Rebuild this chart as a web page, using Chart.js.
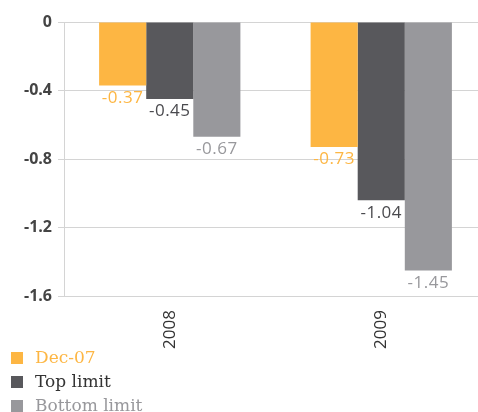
<!DOCTYPE html>
<html>
<head>
<meta charset="utf-8">
<script src="https://cdn.jsdelivr.net/npm/chart.js@4/dist/chart.umd.min.js"></script>
<style>
  html, body { margin: 0; padding: 0; background: #fff; overflow: hidden; }
  #wrap { position: relative; width: 478px; height: 412px; overflow: hidden; }
  #box { position: absolute; left: 0; top: 0; width: 487px; height: 355px; }
  #legend { position: absolute; left: 11px; top: 346px; font-family: "DejaVu Serif", serif; font-size: 17px; }
  .item { height: 24px; line-height: 22px; white-space: nowrap; }
  .sw { display: inline-block; width: 12px; height: 12px; margin-right: 12px; vertical-align: -1px; }
</style>
</head>
<body>
<div id="wrap">
  <div id="box"><canvas id="chart"></canvas></div>
  <div id="legend"></div>
</div>
<script>
const categories = ['2008', '2009'];
const seriesNames = ['Dec-07', 'Top limit', 'Bottom limit'];
const dec07 = [-0.37, -0.73];
const topLimit = [-0.45, -1.04];
const bottomLimit = [-0.67, -1.45];
const colors = ['#fdb643', '#58585c', '#98989c'];
const labelColors = ['#fdb643', '#4a4a4e', '#98989c'];

// value labels under each bar end
const barLabels = {
  id: 'barLabels',
  afterDatasetsDraw(chart) {
    const ctx = chart.ctx;
    ctx.save();
    ctx.font = '17px "Open Sans", sans-serif';
    ctx.letterSpacing = '0.5px';
    ctx.textAlign = 'center';
    ctx.textBaseline = 'top';
    chart.data.datasets.forEach((ds, i) => {
      chart.getDatasetMeta(i).data.forEach((bar, j) => {
        ctx.fillStyle = labelColors[i];
        ctx.fillText(ds.data[j].toFixed(2), bar.x, bar.y + 4);
      });
    });
    ctx.restore();
  }
};

const datasets = [dec07, topLimit, bottomLimit].map((d, i) => ({
  label: seriesNames[i],
  data: d,
  backgroundColor: colors[i],
  categoryPercentage: 0.668,
  barPercentage: 1
}));

new Chart(document.getElementById('chart'), {
  type: 'bar',
  data: { labels: categories, datasets: datasets },
  options: {
    responsive: true,
    maintainAspectRatio: false,
    animation: false,
    layout: { padding: { top: 22, right: 0, bottom: 0, left: 0 } },
    plugins: { legend: { display: false }, tooltip: { enabled: false } },
    scales: {
      x: {
        grid: { display: false },
        border: { display: false },
        ticks: {
          minRotation: 90, maxRotation: 90,
          padding: 6,
          color: '#333',
          font: { family: '"Open Sans", sans-serif', size: 17 }
        }
      },
      y: {
        min: -1.6, max: 0,
        afterFit: s => { s.width = 64; },
        ticks: {
          stepSize: 0.4,
          color: '#444',
          padding: 6,
          font: { family: '"Open Sans", sans-serif', size: 16, weight: 'bold' },
          callback: v => (Math.round(v * 10) / 10).toString()
        },
        grid: { color: '#d4d4d4', tickLength: 6 },
        border: { color: '#d4d4d4' }
      }
    }
  },
  plugins: [barLabels]
});

const legend = document.getElementById('legend');
seriesNames.forEach((name, i) => {
  const row = document.createElement('div');
  row.className = 'item';
  row.style.color = i === 1 ? '#333' : colors[i];
  row.innerHTML = '<span class="sw" style="background:' + colors[i] + '"></span>' + name;
  legend.appendChild(row);
});
</script>
</body>
</html>
